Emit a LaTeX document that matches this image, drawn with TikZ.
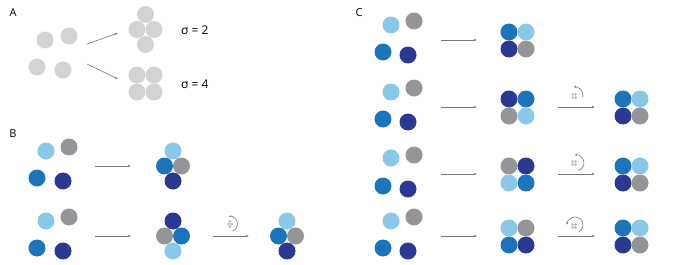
\documentclass[tikz,border=0pt]{standalone}
\usepackage{fontspec}
\setmainfont{Open Sans}
\usepackage{tikz}
\usetikzlibrary{arrows.meta}

\definecolor{pale}{RGB}{209,211,212}
\definecolor{sky}{RGB}{137,200,230}
\definecolor{ocean}{RGB}{28,117,188}
\definecolor{navy}{RGB}{44,57,144}
\definecolor{slate}{RGB}{147,149,152}
\definecolor{pointer}{RGB}{120,120,122}

\tikzset{
	ball/.style={circle, inner sep=0pt, minimum size=17pt},
	paleball/.style={ball, fill=pale},
	skyball/.style={ball, fill=sky},
	oceanball/.style={ball, fill=ocean},
	navyball/.style={ball, fill=navy},
	slateball/.style={ball, fill=slate},
	minidot/.style={circle, inner sep=0pt, minimum size=3pt, fill=pale!90!black},
	panel/.style={font=\fontsize{11}{13}\selectfont},
	sigmatext/.style={font=\fontsize{12}{14}\selectfont, anchor=west, inner sep=0pt},
}

\begin{document}
\begin{tikzpicture}[x=1pt, y=-1pt]
		
		\useasboundingbox (0,0) rectangle (673,265);
		
		% panel labels
		\node[panel] (labA) at (13,13) {A};
		\node[panel] (labB) at (13,134) {B};
		\node[panel] (labC) at (359,13) {C};
		
		% A: free monomers
		\node[paleball] (as1) at (45,40) {};
		\node[paleball] (as2) at (69,36) {};
		\node[paleball] (as3) at (37,67) {};
		\node[paleball] (as4) at (63,70) {};
		
		% A: sigma = 2
		\node[paleball] (ad1) at (145.5,14.5) {};
		\node[paleball] (ad2) at (137,29.5) {};
		\node[paleball] (ad3) at (154,29.5) {};
		\node[paleball] (ad4) at (145.5,44.5) {};
		\node[sigmatext] (sig2) at (181,30) {σ = 2};
		
		% A: sigma = 4
		\node[paleball] (aq1) at (137,75) {};
		\node[paleball] (aq2) at (154,75) {};
		\node[paleball] (aq3) at (137,92) {};
		\node[paleball] (aq4) at (154,92) {};
		\node[sigmatext] (sig4) at (181,84) {σ = 4};
		
		% B: row 1
		\node[skyball] (b1s1) at (46,151) {};
		\node[slateball] (b1s2) at (69,147) {};
		\node[oceanball] (b1s3) at (37,178) {};
		\node[navyball] (b1s4) at (63,181) {};
		\node[skyball] (b1r1) at (173,151) {};
		\node[oceanball] (b1r2) at (164.5,166) {};
		\node[slateball] (b1r3) at (181.5,166) {};
		\node[navyball] (b1r4) at (173,181) {};
		
		% B: row 2
		\node[skyball] (b2s1) at (46,221) {};
		\node[slateball] (b2s2) at (69,217) {};
		\node[oceanball] (b2s3) at (37,248) {};
		\node[navyball] (b2s4) at (63,251) {};
		\node[navyball] (b2r1) at (173,221) {};
		\node[slateball] (b2r2) at (164.5,236) {};
		\node[oceanball] (b2r3) at (181.5,236) {};
		\node[skyball] (b2r4) at (173,251) {};
		\node[skyball] (b2t1) at (287,221) {};
		\node[oceanball] (b2t2) at (278.5,236) {};
		\node[slateball] (b2t3) at (295.5,236) {};
		\node[navyball] (b2t4) at (287,251) {};
		
		% C: row 1
		\node[skyball] (c1s1) at (391,25) {};
		\node[slateball] (c1s2) at (414,21) {};
		\node[oceanball] (c1s3) at (383,52) {};
		\node[navyball] (c1s4) at (408,55) {};
		\node[oceanball] (c1r1) at (509,32) {};
		\node[skyball] (c1r2) at (526,32) {};
		\node[navyball] (c1r3) at (509,49) {};
		\node[slateball] (c1r4) at (526,49) {};
		
		% C: row 2
		\node[skyball] (c2s1) at (391,92) {};
		\node[slateball] (c2s2) at (414,88) {};
		\node[oceanball] (c2s3) at (383,119) {};
		\node[navyball] (c2s4) at (408,122) {};
		\node[navyball] (c2r1) at (509,99) {};
		\node[oceanball] (c2r2) at (526,99) {};
		\node[slateball] (c2r3) at (509,116) {};
		\node[skyball] (c2r4) at (526,116) {};
		\node[oceanball] (c2t1) at (623,99) {};
		\node[skyball] (c2t2) at (640,99) {};
		\node[navyball] (c2t3) at (623,116) {};
		\node[slateball] (c2t4) at (640,116) {};
		
		% C: row 3
		\node[skyball] (c3s1) at (391,158) {};
		\node[slateball] (c3s2) at (414,155) {};
		\node[oceanball] (c3s3) at (383,186) {};
		\node[navyball] (c3s4) at (408,189) {};
		\node[slateball] (c3r1) at (509,166) {};
		\node[navyball] (c3r2) at (526,166) {};
		\node[skyball] (c3r3) at (509,183) {};
		\node[oceanball] (c3r4) at (526,183) {};
		\node[oceanball] (c3t1) at (623,166) {};
		\node[skyball] (c3t2) at (640,166) {};
		\node[navyball] (c3t3) at (623,183) {};
		\node[slateball] (c3t4) at (640,183) {};
		
		% C: row 4
		\node[skyball] (c4s1) at (391,221) {};
		\node[slateball] (c4s2) at (414,217) {};
		\node[oceanball] (c4s3) at (383,248) {};
		\node[navyball] (c4s4) at (408,251) {};
		\node[skyball] (c4r1) at (509,228) {};
		\node[slateball] (c4r2) at (526,228) {};
		\node[oceanball] (c4r3) at (509,245) {};
		\node[navyball] (c4r4) at (526,245) {};
		\node[oceanball] (c4t1) at (623,228) {};
		\node[skyball] (c4t2) at (640,228) {};
		\node[navyball] (c4t3) at (623,245) {};
		\node[slateball] (c4t4) at (640,245) {};
		
		% arrow ends
		\coordinate (aA1) at (87,44);   \coordinate (aZ1) at (118,33);
		\coordinate (aA2) at (87,64);   \coordinate (aZ2) at (118,79);
		\coordinate (b1A) at (95,166);  \coordinate (b1Z) at (131,166);
		\coordinate (b2A) at (95,236);  \coordinate (b2Z) at (131,236);
		\coordinate (b2B) at (213,236); \coordinate (b2Y) at (249,236);
		\coordinate (c1A) at (441,40);  \coordinate (c1Z) at (477,40);
		\coordinate (c2A) at (441,107); \coordinate (c2Z) at (477,107);
		\coordinate (c2B) at (558,107); \coordinate (c2Y) at (595,107);
		\coordinate (c3A) at (441,174); \coordinate (c3Z) at (477,174);
		\coordinate (c3B) at (558,174); \coordinate (c3Y) at (595,174);
		\coordinate (c4A) at (441,236); \coordinate (c4Z) at (477,236);
		\coordinate (c4B) at (558,236); \coordinate (c4Y) at (595,236);
		
		\begin{scope}[pointer, line width=0.6pt, -{Latex[length=3pt, width=2.4pt]}]
			\draw (aA1) -- (aZ1);
			\draw (aA2) -- (aZ2);
			\draw (b1A) -- (b1Z);
			\draw (b2A) -- (b2Z);
			\draw (b2B) -- (b2Y);
			\draw (c1A) -- (c1Z);
			\draw (c2A) -- (c2Z);
			\draw (c2B) -- (c2Y);
			\draw (c3A) -- (c3Z);
			\draw (c3B) -- (c3Y);
			\draw (c4A) -- (c4Z);
			\draw (c4B) -- (c4Y);
		\end{scope}
		
		% rotation marks: small clusters
		\node[minidot] (bm1) at (230,221.4) {};
		\node[minidot] (bm2) at (228.5,224) {};
		\node[minidot] (bm3) at (231.5,224) {};
		\node[minidot] (bm4) at (230,226.6) {};
		
		\node[minidot] (c2m1) at (572.5,94.5) {};
		\node[minidot] (c2m2) at (575.5,94.5) {};
		\node[minidot] (c2m3) at (572.5,97.5) {};
		\node[minidot] (c2m4) at (575.5,97.5) {};
		
		\node[minidot] (c3m1) at (572.5,161.5) {};
		\node[minidot] (c3m2) at (575.5,161.5) {};
		\node[minidot] (c3m3) at (572.5,164.5) {};
		\node[minidot] (c3m4) at (575.5,164.5) {};
		
		\node[minidot] (c4m1) at (572.5,224.5) {};
		\node[minidot] (c4m2) at (575.5,224.5) {};
		\node[minidot] (c4m3) at (572.5,227.5) {};
		\node[minidot] (c4m4) at (575.5,227.5) {};
		
		% rotation marks: arcs
		\coordinate (bRot) at (230,224);
		\coordinate (c2Rot) at (575,95);
		\coordinate (c3Rot) at (576,163);
		\coordinate (c4Rot) at (575,225);
		
		\begin{scope}[pointer, line width=0.6pt, -{Latex[length=2.4pt, width=2.2pt]}]
			\draw (bRot) ++(70:7.5) arc[start angle=70, end angle=-100, radius=7.5];
			\draw (c2Rot) ++(15:8) arc[start angle=15, end angle=-100, radius=8];
			\draw (c3Rot) ++(75:8) arc[start angle=75, end angle=-100, radius=8];
			\draw (c4Rot) ++(65:8) arc[start angle=65, end angle=-180, radius=8];
		\end{scope}
		
	\end{tikzpicture}
\end{document}
